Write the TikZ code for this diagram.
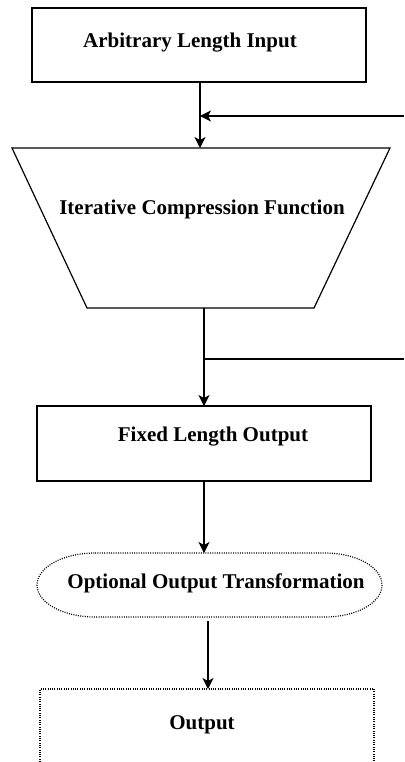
\documentclass[tikz,border=0pt]{standalone}
\usepackage{fontspec}
\setmainfont{Liberation Serif}
\usetikzlibrary{arrows.meta}
\tikzset{
    txt/.style={font=\bfseries\fontsize{21}{24}\selectfont, inner sep=0pt},
    box/.style={draw, line width=1.2pt, inner sep=0pt},
    dots/.style={line width=1.2pt, dash pattern=on 1pt off 1.3pt},
    arr/.style={line width=1.2pt, -{Stealth[length=11pt,width=11pt,inset=3pt]}},
}
\begin{document}
\begin{tikzpicture}[x=1pt,y=1pt]
                    \useasboundingbox (0,0) rectangle (404,-762);
                    \node[box, minimum width=334pt, minimum height=74pt] (inp) at (199,-45) {};
                    \node[txt] (inptxt) at (190,-43) {Arbitrary Length Input};
                    \node[txt] (cftxt) at (202,-209) {Iterative Compression Function};
                    \node[box, minimum width=334pt, minimum height=75pt] (fix) at (204,-443.5) {};
                    \node[txt] (fixtxt) at (213,-437) {Fixed Length Output};
                    \node[txt] (opt) at (216,-583) {Optional Output Transformation};
                    \node[txt] (out) at (202,-725) {Output};
                    % trapezium and dotted shapes
                    \draw[line width=1.2pt] (12,-148) -- (390,-148) -- (314,-308) -- (87,-308) -- cycle;
                    \draw[dots] (95,-553) -- (325,-553) arc[start angle=90,end angle=-90,x radius=57,y radius=32]
                                -- (95,-617) arc[start angle=270,end angle=90,x radius=58,y radius=32] -- cycle;
                    \draw[dots] (40,-762) -- (40,-689) -- (374,-689) -- (374,-762);
                    % connectors
                    \coordinate (inpbot) at (200,-82);
                    \coordinate (cftop) at (200,-148);
                    \coordinate (fbin) at (404,-116);
                    \coordinate (fbjoin) at (200,-116);
                    \coordinate (fbout) at (404,-359);
                    \coordinate (fbsplit) at (204,-359);
                    \coordinate (cfbot) at (204,-308);
                    \coordinate (fixtop) at (204,-406);
                    \coordinate (fixbot) at (204,-481);
                    \coordinate (opttop) at (204,-553);
                    \coordinate (optbot) at (208,-621);
                    \coordinate (outtop) at (208,-689);
                    \draw[arr] (inpbot) -- (cftop);
                    \draw[arr] (fbin) -- (fbjoin);
                    \draw[arr] (cfbot) -- (fixtop);
                    \draw[line width=1.2pt] (fbsplit) -- (fbout);
                    \draw[arr] (fixbot) -- (opttop);
                    \draw[arr] (optbot) -- (outtop);
                \end{tikzpicture}
\end{document}
